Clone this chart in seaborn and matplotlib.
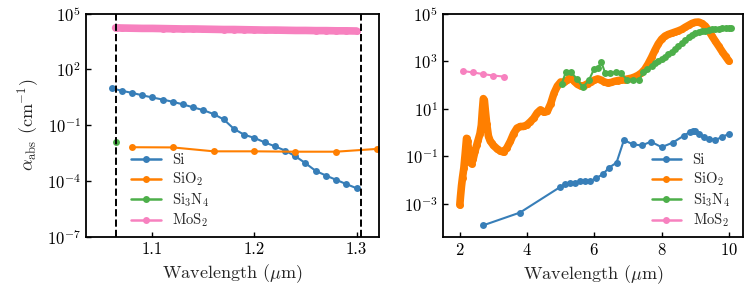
import numpy as np
import pandas as pd
import matplotlib
matplotlib.use('Agg')
import matplotlib.pyplot as plt
from matplotlib.lines import Line2D
import seaborn as sns

# ---- left panel: near-IR (1.06 - 1.32 um) ----
si_nir_wl = [1.06, 1.07, 1.08, 1.09, 1.10, 1.11, 1.12, 1.13, 1.14, 1.15, 1.16, 1.17, 1.18,
             1.19, 1.20, 1.21, 1.22, 1.23, 1.24, 1.25, 1.26, 1.27, 1.28, 1.29, 1.30]
si_nir_log = [0.99, 0.85, 0.74, 0.61, 0.49, 0.38, 0.26, 0.12, -0.04, -0.19, -0.40, -0.69, -1.20,
              -1.51, -1.68, -1.92, -2.13, -2.36, -2.66, -3.04, -3.45, -3.70, -3.93, -4.16, -4.38]

sio2_nir_wl = [1.08, 1.12, 1.16, 1.20, 1.24, 1.28, 1.32]
sio2_nir_log = [-2.18, -2.19, -2.40, -2.40, -2.42, -2.42, -2.27]

sin_nir_wl = [1.064]
sin_nir_log = [-1.92]

mos2_nir_wl = [1.064, 1.07, 1.08, 1.09, 1.10, 1.11, 1.12, 1.13, 1.14, 1.15, 1.16, 1.17, 1.18,
               1.19, 1.20, 1.21, 1.22, 1.23, 1.24, 1.25, 1.26, 1.27, 1.28, 1.29, 1.30]
mos2_nir_log = [4.23, 4.22, 4.21, 4.20, 4.20, 4.19, 4.18, 4.17, 4.17, 4.16, 4.15, 4.14, 4.14,
                4.13, 4.12, 4.11, 4.11, 4.10, 4.09, 4.09, 4.08, 4.08, 4.07, 4.07, 4.06]

dashed_wl = [1.064, 1.304]

# ---- right panel: mid-IR (2 - 10 um) ----
si_mir_wl = [2.69, 3.79, 4.98, 5.13, 5.27, 5.42, 5.57, 5.72, 5.87, 6.05, 6.25, 6.44, 6.66,
             6.88, 7.14, 7.41, 7.68, 8.00, 8.33, 8.67, 8.83, 8.93, 9.00, 9.10, 9.26, 9.41,
             9.60, 9.81, 10.01]
si_mir_log = [-3.91, -3.37, -2.30, -2.18, -2.14, -2.11, -2.05, -2.05, -2.05, -1.93, -1.76,
              -1.48, -1.27, -0.32, -0.50, -0.55, -0.39, -0.62, -0.43, -0.13, 0.01, 0.08, 0.08,
              -0.08, -0.18, -0.27, -0.32, -0.18, -0.06]

sio2_mir_wl = [2.00, 2.02, 2.05, 2.08, 2.12, 2.16, 2.20, 2.23, 2.27, 2.31, 2.35, 2.40, 2.45,
               2.50, 2.55, 2.60, 2.64, 2.67, 2.70, 2.73, 2.76, 2.80, 2.85, 2.90, 2.95, 3.00,
               3.10, 3.20, 3.30, 3.40, 3.50, 3.60, 3.70, 3.80, 3.90, 4.00, 4.10, 4.20, 4.30,
               4.40, 4.50, 4.60, 4.70, 4.80, 4.90, 5.00, 5.10, 5.20, 5.30, 5.40, 5.50, 5.60,
               5.70, 5.80, 5.90, 6.00, 6.10, 6.20, 6.30, 6.40, 6.50, 6.60, 6.70, 6.80, 6.90,
               7.00, 7.10, 7.20, 7.30, 7.40, 7.50, 7.60, 7.70, 7.80, 7.90, 8.00, 8.10, 8.20,
               8.30, 8.40, 8.50, 8.60, 8.70, 8.80, 8.90, 9.00, 9.10, 9.20, 9.30, 9.40, 9.50,
               9.60, 9.70, 9.80, 9.90, 10.00]
sio2_mir_log = [-3.05, -2.70, -2.25, -1.90, -1.50, -0.90, -0.25, -0.35, -0.90, -1.25, -1.32,
                -1.10, -0.80, -0.55, -0.30, -0.05, 0.30, 0.90, 1.42, 1.35, 0.90, 0.35, -0.15,
                -0.35, -0.45, -0.55, -0.68, -0.78, -0.83, -0.65, -0.38, -0.05, 0.18, 0.25, 0.25,
                0.32, 0.45, 0.60, 0.82, 0.95, 0.85, 0.88, 1.20, 1.65, 1.95, 2.12, 2.10, 2.20,
                2.32, 2.15, 2.02, 1.95, 1.97, 2.05, 2.12, 2.20, 2.25, 2.20, 2.12, 2.08, 2.10,
                2.15, 2.18, 2.20, 2.22, 2.25, 2.28, 2.33, 2.40, 2.50, 2.65, 2.88, 3.15, 3.45,
                3.72, 3.92, 4.05, 4.12, 4.17, 4.22, 4.27, 4.33, 4.42, 4.50, 4.58, 4.63, 4.64,
                4.58, 4.47, 4.28, 4.05, 3.83, 3.62, 3.40, 3.20, 3.00]

sin_mir_wl = [5.03, 5.15, 5.30, 5.48, 5.66, 5.84, 5.99, 6.10, 6.21, 6.32, 6.48, 6.65, 6.80,
              6.96, 7.14, 7.33, 7.46, 7.58, 7.70, 7.80, 7.90, 8.00, 8.10, 8.20, 8.30, 8.40,
              8.50, 8.60, 8.70, 8.80, 8.90, 9.00, 9.10, 9.20, 9.30, 9.40, 9.50, 9.60, 9.70,
              9.80, 9.90, 10.00, 10.05]
sin_mir_log = [2.05, 2.52, 2.55, 2.25, 1.90, 2.20, 2.66, 2.72, 2.95, 2.50, 2.50, 2.55, 2.50,
               2.22, 2.22, 2.20, 2.55, 2.68, 2.80, 2.90, 3.00, 3.08, 3.18, 3.28, 3.40, 3.52,
               3.64, 3.77, 3.90, 4.00, 4.10, 4.16, 4.21, 4.25, 4.28, 4.31, 4.33, 4.35, 4.36,
               4.37, 4.38, 4.39, 4.40]

mos2_mir_wl = [2.1, 2.4, 2.7, 3.0, 3.3]
mos2_mir_log = [2.58, 2.52, 2.45, 2.39, 2.35]

materials = ['Si', 'SiO$_2$', 'Si$_3$N$_4$', 'MoS$_2$']
material_colors = ['#377eb8', '#ff7f00', '#4daf4a', '#f781bf']

sns.set_style('ticks')
plt.rcParams['font.family'] = 'serif'
plt.rcParams['font.serif'] = ['cmr10']
plt.rcParams['mathtext.fontset'] = 'cm'
plt.rcParams['axes.formatter.use_mathtext'] = True
plt.rcParams['axes.unicode_minus'] = False
plt.rcParams['axes.linewidth'] = 1.3
plt.rcParams['axes.edgecolor'] = 'black'

colors = dict(zip(materials, material_colors))

fig = plt.figure(figsize=(7.53, 2.87), dpi=100)
ax1 = fig.add_axes([86 / 753, 50 / 287, 293 / 753, 223.5 / 287])
ax2 = fig.add_axes([443 / 753, 50 / 287, 300 / 753, 223.5 / 287])


def draw(ax, wl, logv, name, band=False):
    df = pd.DataFrame({'wl': wl, 'alpha': 10 ** np.array(logv)})
    sns.lineplot(data=df, x='wl', y='alpha', ax=ax, color=colors[name], marker='o',
                 markersize=5, markeredgewidth=0, linewidth=5.5 if band else 1.5,
                 solid_joinstyle='round', solid_capstyle='round', legend=False)


draw(ax1, si_nir_wl, si_nir_log, 'Si')
draw(ax1, sio2_nir_wl, sio2_nir_log, 'SiO$_2$')
draw(ax1, sin_nir_wl, sin_nir_log, 'Si$_3$N$_4$')
draw(ax1, mos2_nir_wl, mos2_nir_log, 'MoS$_2$', band=True)
for w in dashed_wl:
    ax1.axvline(w, color='black', ls='--', lw=1.4)

draw(ax2, si_mir_wl, si_mir_log, 'Si')
draw(ax2, sio2_mir_wl, sio2_mir_log, 'SiO$_2$', band=True)
draw(ax2, sin_mir_wl, sin_mir_log, 'Si$_3$N$_4$')
draw(ax2, mos2_mir_wl, mos2_mir_log, 'MoS$_2$')

handles = [Line2D([], [], color=colors[m], marker='o', markersize=5, markeredgewidth=0,
                  lw=1.8) for m in materials]

ax1.set_yscale('log')
ax1.set_xlim(1.035, 1.322)
ax1.set_ylim(1e-7, 1e5)
ax1.set_yticks([1e-7, 1e-4, 1e-1, 1e2, 1e5])
ax1.set_xticks([1.1, 1.2, 1.3])
ax1.set_xticklabels(['1.1', '1.2', '1.3'])
ax1.minorticks_off()
ax1.set_xlabel(r'Wavelength ($\mu$m)', fontsize=13)
ax1.set_ylabel(r'$\alpha_{\rm abs}$ $(\rm cm^{-1})$', fontsize=13)
ax1.legend(handles, materials, loc='lower left', bbox_to_anchor=(0.11, -0.025),
           frameon=False, fontsize=10.5, labelspacing=0.22)

ax2.set_yscale('log')
ax2.set_xlim(1.5, 10.42)
ax2.set_ylim(4e-5, 1e5)
ax2.set_yticks([1e-3, 1e-1, 1e1, 1e3, 1e5])
ax2.set_xticks([2, 4, 6, 8, 10])
ax2.minorticks_off()
ax2.set_xlabel(r'Wavelength ($\mu$m)', fontsize=13)
ax2.set_ylabel('')
ax2.legend(handles, materials, loc='lower right', bbox_to_anchor=(1.0, -0.025),
           frameon=False, fontsize=10.5, labelspacing=0.22)

for ax in (ax1, ax2):
    ax.tick_params(direction='in', length=3.5, width=1, labelsize=12, colors='black')
    for s in ax.spines.values():
        s.set_visible(True)
        s.set_color('black')

fig.savefig('out.png', dpi=100)
